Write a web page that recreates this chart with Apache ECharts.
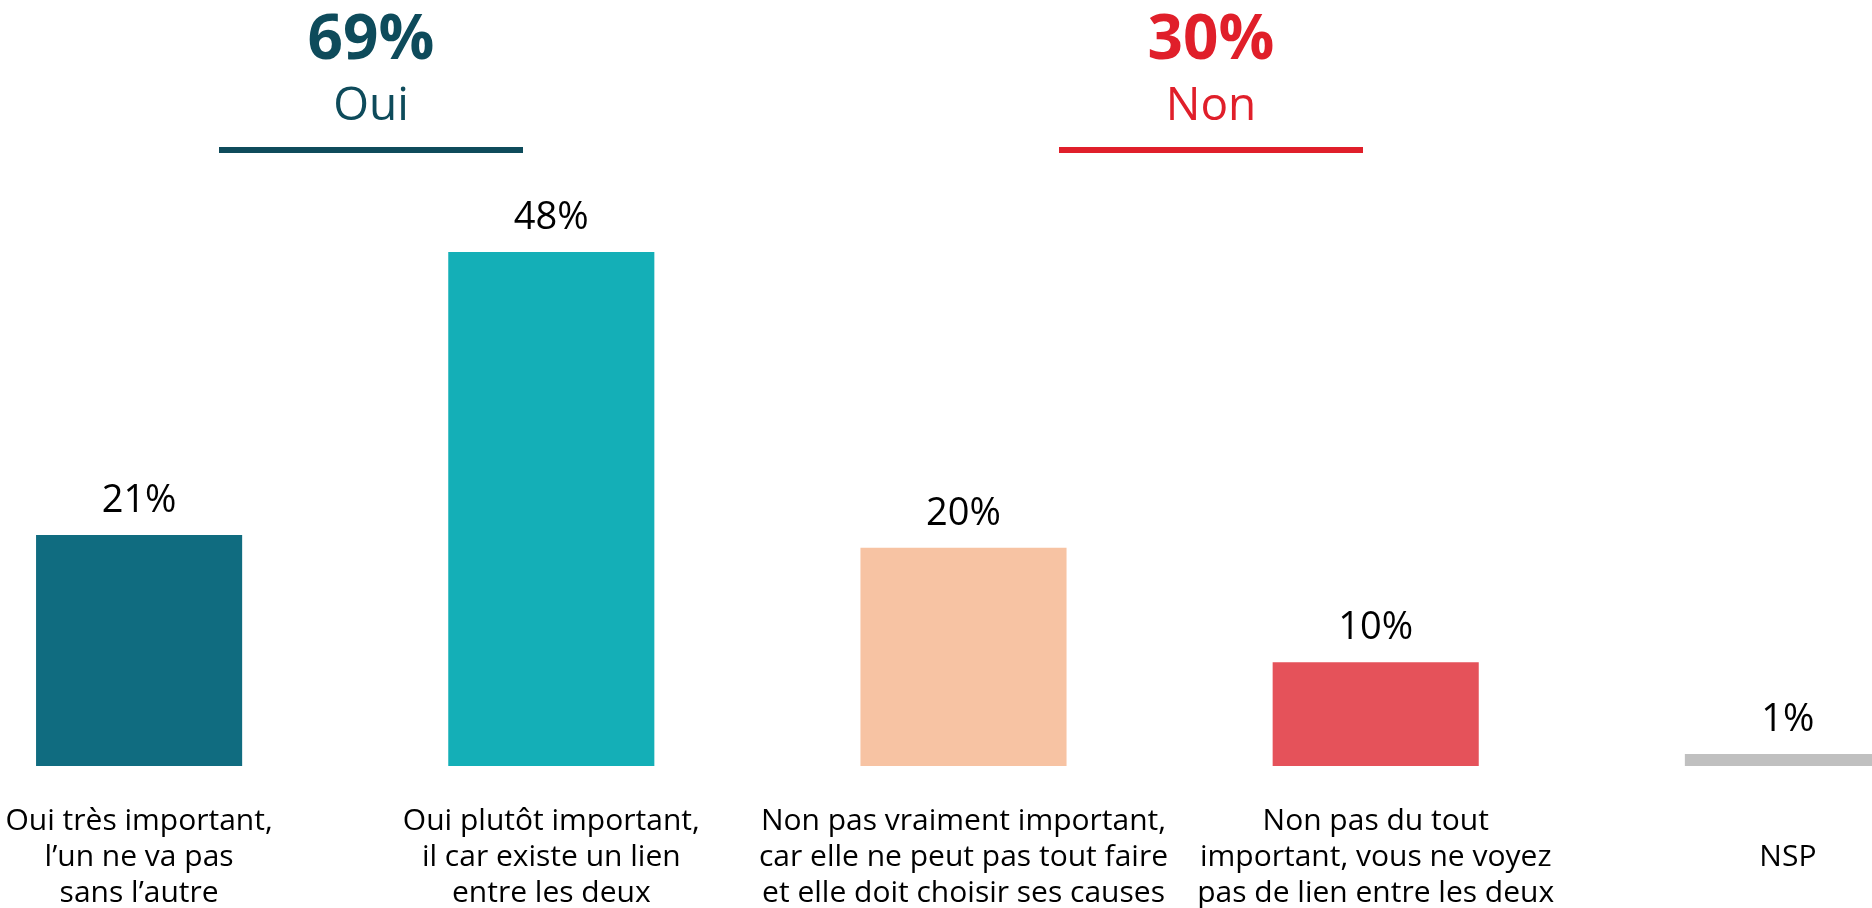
<!DOCTYPE html>
<html>
<head>
<meta charset="utf-8">
<script src="https://cdn.jsdelivr.net/npm/echarts@6/dist/echarts.min.js"></script>
<style>
html,body{margin:0;padding:0;background:#fff;overflow:hidden;width:1872px;height:908px;position:relative;}
#chart{position:absolute;left:-67px;top:0;width:2061px;height:908px;}
</style>
</head>
<body>
<div id="chart"></div>
<script>
var categories = [
  "Oui très important,\nl’un ne va pas\nsans l’autre",
  "Oui plutôt important,\nil car existe un lien\nentre les deux",
  "Non pas vraiment important,\ncar elle ne peut pas tout faire\net elle doit choisir ses causes",
  "Non pas du tout\nimportant, vous ne voyez\npas de lien entre les deux",
  "\nNSP"
];
// bar heights (labels show the rounded value)
var values = [21.4, 47.6, 20.2, 9.6, 1.1];
var barColors = ["#106C80", "#14AFB7", "#F7C3A3", "#E5525A", "#C0C0C0"];
var groupTotals = ["69%", "30%"];
var groupNames = ["Oui", "Non"];
var groupColors = ["#0E4B5B", "#E01F2A"];

var FONT = "'Open Sans', 'Noto Sans', sans-serif";
var OFFSET = 67; // container is shifted left by this amount
var chart = echarts.init(document.getElementById('chart'));

function groupGraphic(i, cx) {
  var x = cx + OFFSET;
  return [
    {type:'text', x: x, y: 10, style:{text: groupTotals[i], fill: groupColors[i], font: 'bold 62px ' + FONT, textAlign:'center', textVerticalAlign:'top'}},
    {type:'text', x: x, y: 84, style:{text: groupNames[i], fill: groupColors[i], font: '46px ' + FONT, textAlign:'center', textVerticalAlign:'top'}},
    {type:'rect', x: x - 152, y: 147, shape:{width: 304, height: 6}, style:{fill: groupColors[i]}}
  ];
}

var option = {
  animation: false,
  backgroundColor: '#ffffff',
  grid: {left: 0, right: 0, top: 118, bottom: 142, containLabel: false, outerBoundsMode: 'none'},
  xAxis: {
    type: 'category',
    data: categories,
    axisLine: {show: false},
    axisTick: {show: false},
    axisLabel: {
      interval: 0,
      margin: 37,
      color: '#000',
      fontFamily: FONT,
      fontSize: 30,
      lineHeight: 36,
      align: 'center'
    }
  },
  yAxis: {type: 'value', min: 0, max: 60, show: false, splitLine: {show: false}},
  series: [{
    type: 'bar',
    barWidth: '50%',
    data: values.map(function(v, i){ return {value: v, itemStyle: {color: barColors[i]}}; }),
    label: {
      show: true,
      position: 'top',
      distance: 15,
      color: '#000',
      fontFamily: FONT,
      fontSize: 38,
      formatter: function(p){ return Math.round(p.value) + '%'; }
    }
  }],
  graphic: [].concat(groupGraphic(0, 371), groupGraphic(1, 1211))
};
chart.setOption(option);
</script>
</body>
</html>
